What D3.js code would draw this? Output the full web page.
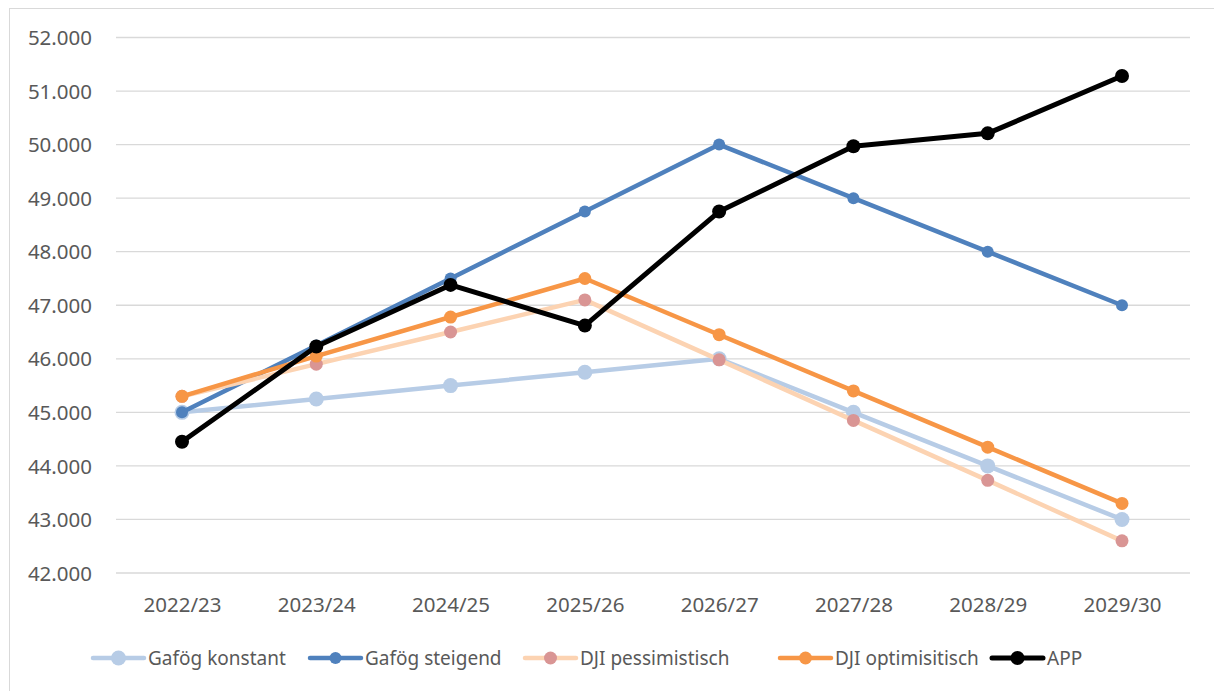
<!DOCTYPE html>
<html>
<head>
<meta charset="utf-8">
<script src="https://cdn.jsdelivr.net/npm/d3@7"></script>
<style>
  body { margin: 0; background: #fff; }
  svg text { font-family: "Noto Sans", "Open Sans", sans-serif; fill: #595959; }
</style>
</head>
<body>
<script>
// categories and series
var years = ['2022/23', '2023/24', '2024/25', '2025/26', '2026/27', '2027/28', '2028/29', '2029/30'];
var gafoegKonstant = [45000, 45250, 45500, 45750, 46000, 45000, 44000, 43000];
var gafoegSteigend = [45000, 46250, 47500, 48750, 50000, 49000, 48000, 47000];
var djiPessimistisch = [45300, 45900, 46500, 47100, 45980, 44850, 43730, 42600];
var djiOptimistisch = [45300, 46050, 46780, 47500, 46450, 45400, 44350, 43300];
var app = [44450, 46230, 47380, 46620, 48750, 49970, 50210, 51280];
var yTicks = [42000, 43000, 44000, 45000, 46000, 47000, 48000, 49000, 50000, 51000, 52000];

var series = [
  { name: 'Gafög konstant', values: gafoegKonstant, line: '#b7cce6', dot: '#b7cce6', r: 7.5, w: 4.5 },
  { name: 'Gafög steigend', values: gafoegSteigend, line: '#4f81bd', dot: '#4f81bd', r: 6, w: 4.5 },
  { name: 'DJI pessimistisch', values: djiPessimistisch, line: '#fcd3b2', dot: '#d99594', r: 6.5, w: 4.5 },
  { name: 'DJI optimisitisch', values: djiOptimistisch, line: '#f79646', dot: '#f79646', r: 6.5, w: 4.5 },
  { name: 'APP', values: app, line: '#000000', dot: '#000000', r: 7, w: 5 }
];

var W = 1214, H = 691;
var svg = d3.select('body').append('svg').attr('width', W).attr('height', H);

// chart border
svg.append('rect').attr('x', 9.5).attr('y', 8.5).attr('width', W).attr('height', H)
  .attr('fill', 'none').attr('stroke', '#d9d9d9');

var x = d3.scalePoint().domain(years).range([182, 1122]);
var y = d3.scaleLinear().domain([42000, 52000]).range([573, 37.5]);

// gridlines
svg.append('g').selectAll('line').data(yTicks).enter().append('line')
  .attr('x1', 116).attr('x2', 1190)
  .attr('y1', function(d) { return y(d); }).attr('y2', function(d) { return y(d); })
  .attr('stroke', '#d9d9d9').attr('stroke-width', 1.3);

// y axis labels
var yAxis = d3.axisLeft(y).tickValues(yTicks).tickSize(0).tickPadding(0)
  .tickFormat(function(d) { return (d / 1000).toFixed(3); });
var gy = svg.append('g').attr('transform', 'translate(92,0)').call(yAxis);
gy.select('.domain').remove();
gy.selectAll('text').style('font-size', '20.5px').attr('dy', '0.35em');

// x axis labels
var xAxis = d3.axisBottom(x).tickSize(0).tickPadding(0);
var gx = svg.append('g').attr('transform', 'translate(0,605)').call(xAxis);
gx.select('.domain').remove();
gx.selectAll('text').style('font-size', '20.5px').attr('dy', '0.35em');

var line = d3.line()
  .x(function(d, i) { return x(years[i]); })
  .y(function(d) { return y(d); });

series.forEach(function(s) {
  svg.append('path').datum(s.values)
    .attr('d', line)
    .attr('fill', 'none')
    .attr('stroke', s.line)
    .attr('stroke-width', s.w)
    .attr('stroke-linejoin', 'round');
  svg.append('g').selectAll('circle').data(s.values).enter().append('circle')
    .attr('cx', function(d, i) { return x(years[i]); })
    .attr('cy', function(d) { return y(d); })
    .attr('r', s.r)
    .attr('fill', s.dot);
});

// legend
var legendX = [93, 310, 525, 780, 992];
var lg = svg.append('g').selectAll('g').data(series).enter().append('g')
  .attr('transform', function(d, i) { return 'translate(' + legendX[i] + ',658)'; });
lg.append('line').attr('x1', 0).attr('x2', 51).attr('y1', 0).attr('y2', 0)
  .attr('stroke', function(d) { return d.line; }).attr('stroke-width', function(d) { return d.w; })
  .attr('stroke-linecap', 'round');
lg.append('circle').attr('cx', 25.5).attr('cy', 0)
  .attr('r', function(d) { return d.r; })
  .attr('fill', function(d) { return d.dot; });
lg.append('text').attr('x', 55).attr('y', 0).attr('dy', '0.35em')
  .style('font-size', '19px')
  .text(function(d) { return d.name; });
</script>
</body>
</html>
